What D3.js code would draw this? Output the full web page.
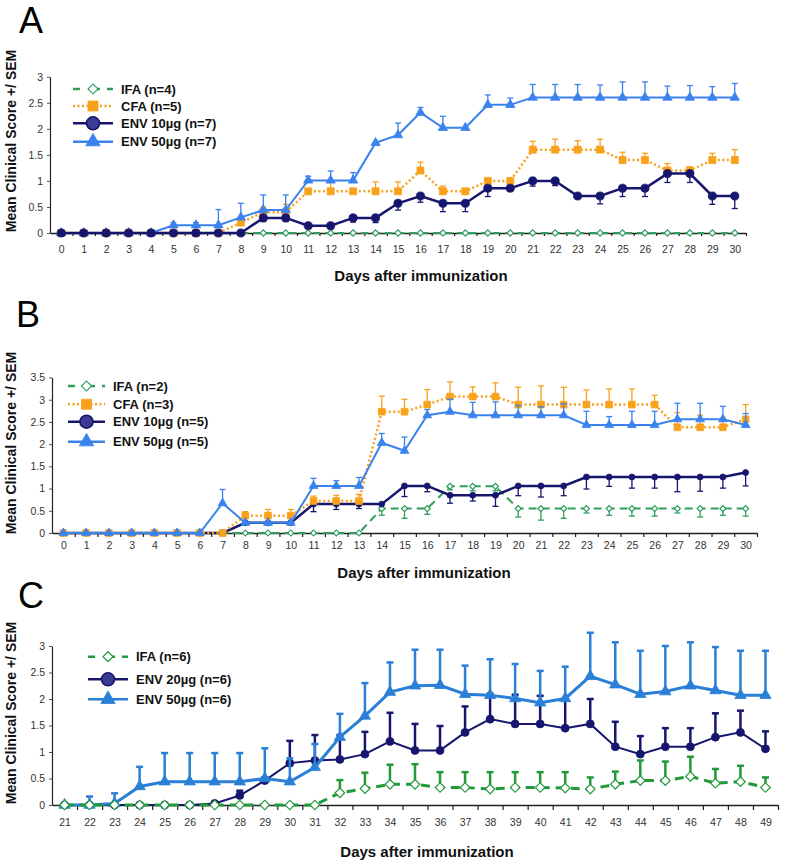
<!DOCTYPE html>
<html>
<head>
<meta charset="utf-8">
<script src="https://cdn.jsdelivr.net/npm/d3@7"></script>
<style>
  body { margin: 0; background: #fff; }
  svg { display: block; }
</style>
</head>
<body>
<svg id="chart" width="785" height="864"></svg>
<script>
const FONT = '"Liberation Sans", Arial, sans-serif';

// ---- categories / ticks ----
const daysAB = [0,1,2,3,4,5,6,7,8,9,10,11,12,13,14,15,16,17,18,19,20,21,22,23,24,25,26,27,28,29,30];
const daysC = [21,22,23,24,25,26,27,28,29,30,31,32,33,34,35,36,37,38,39,40,41,42,43,44,45,46,47,48,49];
const yTicksA = [0, 0.5, 1, 1.5, 2, 2.5, 3];
const yTicksB = [0, 0.5, 1, 1.5, 2, 2.5, 3, 3.5];
const yTicksC = [0, 0.5, 1, 1.5, 2, 2.5, 3];

// ---- panel A ----
const aIFA    = [0,0,0,0,0,0,0,0,0,0,0,0,0,0,0,0,0,0,0,0,0,0,0,0,0,0,0,0,0,0,0];
const aIFAsem = [0,0,0,0,0,0,0,0,0,0,0,0,0,0,0,0,0,0,0,0,0,0,0,0,0,0,0,0,0,0,0];
const aCFA    = [0,0,0,0,0,0,0,0,0.2,0.4,0.4,0.8,0.8,0.8,0.8,0.8,1.2,0.8,0.8,1.0,1.0,1.6,1.6,1.6,1.6,1.4,1.4,1.2,1.2,1.4,1.4];
const aCFAsem = [0,0,0,0,0,0,0,0,0.05,0.1,0.15,0,0.18,0,0.18,0.18,0.16,0.1,0,0,0,0.16,0.2,0.17,0.2,0.15,0.13,0.13,0.07,0.13,0.2];
const aENV10    = [0,0,0,0,0,0,0,0,0,0.29,0.29,0.14,0.14,0.29,0.29,0.57,0.71,0.57,0.57,0.86,0.86,1.0,1.0,0.71,0.71,0.86,0.86,1.14,1.14,0.71,0.71];
const aENV10sem = [0,0,0,0,0,0,0,0,0,0.07,0.07,0.05,0.06,0.08,0.09,0.13,0.12,0.16,0.16,0.16,0.05,0.1,0.09,0.05,0.15,0.16,0.16,0.17,0.17,0.16,0.24];
const aENV50    = [0,0,0,0,0,0.15,0.15,0.15,0.3,0.44,0.44,1.01,1.01,1.01,1.73,1.88,2.31,2.02,2.02,2.46,2.46,2.6,2.6,2.6,2.6,2.6,2.6,2.6,2.6,2.6,2.6];
const aENV50sem = [0,0,0,0,0,0.05,0.05,0.3,0.27,0.29,0.29,0.08,0.18,0.15,0,0.23,0.1,0.22,0,0.19,0.13,0.25,0.25,0.25,0.24,0.3,0.3,0.22,0.23,0.21,0.27];

// ---- panel B ----
const bIFA    = [0,0,0,0,0,0,0,0,0,0,0,0,0,0,0.55,0.55,0.55,1.05,1.05,1.05,0.55,0.55,0.55,0.55,0.55,0.55,0.55,0.55,0.55,0.55,0.55];
const bIFAsem = [0,0,0,0,0,0,0,0,0,0,0,0,0,0,0.15,0.22,0.13,0.08,0.1,0.1,0.19,0.26,0.22,0.1,0.15,0.17,0.17,0.1,0.19,0.15,0.17];
const bCFA    = [0,0,0,0,0,0,0,0,0.39,0.39,0.39,0.72,0.72,0.72,2.73,2.73,2.89,3.07,3.07,3.07,2.89,2.89,2.89,2.89,2.89,2.89,2.89,2.38,2.38,2.38,2.56];
const bCFAsem = [0,0,0,0,0,0,0,0,0.09,0.14,0.14,0.11,0.13,0.15,0.35,0.28,0.34,0.33,0.22,0.31,0.39,0.42,0.39,0.33,0.35,0.35,0.21,0.33,0.27,0.21,0.33];
const bENV10    = [0,0,0,0,0,0,0,0,0.23,0.23,0.23,0.65,0.65,0.65,0.65,1.06,1.06,0.85,0.85,0.85,1.06,1.06,1.06,1.26,1.26,1.26,1.26,1.26,1.26,1.26,1.36];
const bENV10sem = [0,0,0,0,0,0,0,0,0,0,0,0.17,0.12,0.1,0,0.24,0.13,0.18,0.13,0.25,0.22,0.25,0.22,0.27,0.21,0.25,0.25,0.33,0.32,0.25,0.3];
const bENV50    = [0,0,0,0,0,0,0,0.67,0.23,0.23,0.23,1.06,1.06,1.06,2.03,1.85,2.65,2.73,2.65,2.65,2.65,2.65,2.65,2.43,2.43,2.43,2.43,2.56,2.56,2.56,2.43];
const bENV50sem = [0,0,0,0,0,0,0,0.31,0,0,0,0.17,0.12,0.19,0.21,0.31,0.13,0.28,0.29,0.3,0.22,0.19,0.26,0.31,0.19,0.31,0.31,0.36,0.36,0.29,0.26];

// ---- panel C ----
const cIFA    = [0,0,0,0,0,0,0,0,0,0,0,0.23,0.31,0.39,0.39,0.33,0.33,0.30,0.33,0.33,0.32,0.30,0.39,0.46,0.46,0.54,0.41,0.44,0.33];
const cIFAsem = [0,0,0,0,0,0,0,0,0,0,0,0.24,0.3,0.37,0.38,0.29,0.29,0.32,0.29,0.29,0.3,0.22,0.24,0.38,0.36,0.37,0.27,0.3,0.19];
const cENV20    = [0,0,0,0,0,0,0.03,0.18,0.46,0.79,0.84,0.86,0.96,1.2,1.03,1.03,1.37,1.62,1.53,1.53,1.45,1.53,1.10,0.96,1.10,1.10,1.28,1.37,1.06];
const cENV20sem = [0,0,0,0,0,0,0,0.09,0.06,0.42,0.48,0.46,0.42,0.54,0.5,0.46,0.49,0.48,0.55,0.53,0.55,0.47,0.47,0.34,0.35,0.35,0.45,0.41,0.33];
const cENV50    = [0,0,0.03,0.35,0.44,0.44,0.44,0.44,0.5,0.44,0.71,1.28,1.68,2.13,2.25,2.26,2.09,2.07,2.01,1.93,2.01,2.43,2.27,2.09,2.14,2.25,2.16,2.07,2.07];
const cENV50sem = [0,0.16,0.19,0.37,0.54,0.54,0.54,0.54,0.57,0.44,0.44,0.44,0.62,0.56,0.68,0.67,0.54,0.68,0.65,0.6,0.6,0.82,0.8,0.82,0.86,0.82,0.82,0.84,0.84];

// colours
const GREEN = '#2f9e5c', GREEN_C = '#22993a', ORANGE = '#f9a11b', NAVY = '#16166e', BLUE = '#3a82ee', BLUE_C = '#2a7fd6';

const panels = [
  {
    letter: 'A', letterX: 19, letterY: 33,
    days: daysAB, yMax: 3, yTicks: yTicksA,
    left: 50, right: 746, top: 76.7, bottom: 233, xPad: 12.5, xTick: 3,
    yTitleY: 141, xTitleX: 421, xTitleY: 281,
    legend: { rows: [89, 106, 123.3, 141.7], x0: 73, x1: 113, tx: 121 },
    series: [
      { label: 'IFA (n=4)', values: aIFA, sem: aIFAsem, dir: 1, z: 0, color: GREEN, dash: '7,5', width: 2, sym: 'diamond', size: 20, capW: 6, barW: 1.3 },
      { label: 'CFA (n=5)', values: aCFA, sem: aCFAsem, dir: 1, z: 1, color: ORANGE, dash: '2,2.5', width: 2.5, sym: 'square', size: 49, capW: 6, barW: 1.3 },
      { label: 'ENV 10µg (n=7)', values: aENV10, sem: aENV10sem, dir: -1, z: 3, color: NAVY, dash: null, width: 2.5, sym: 'circle', size: 52, capW: 6, barW: 1.3 },
      { label: 'ENV 50µg (n=7)', values: aENV50, sem: aENV50sem, dir: 1, z: 2, color: BLUE, dash: null, width: 2, sym: 'triangle', size: 38, capW: 6, barW: 1.3 }
    ]
  },
  {
    letter: 'B', letterX: 16, letterY: 327,
    days: daysAB, yMax: 3.5, yTicks: yTicksB,
    left: 52, right: 757, top: 377.5, bottom: 533, xPad: 9, xTick: 4,
    yTitleY: 443, xTitleX: 424, xTitleY: 578,
    legend: { rows: [386, 404.3, 421.7, 441.7], x0: 68, x1: 105, tx: 113 },
    series: [
      { label: 'IFA (n=2)', values: bIFA, sem: bIFAsem, dir: -1, z: 0, color: GREEN, dash: '8,5', width: 2, sym: 'diamond', size: 18, capW: 6, barW: 1.3 },
      { label: 'CFA (n=3)', values: bCFA, sem: bCFAsem, dir: 1, z: 2, color: ORANGE, dash: '2,2.5', width: 2.5, sym: 'square', size: 45, capW: 6, barW: 1.3 },
      { label: 'ENV 10µg (n=5)', values: bENV10, sem: bENV10sem, dir: -1, z: 1, color: NAVY, dash: null, width: 2.5, sym: 'circle', size: 28, capW: 6, barW: 1.3 },
      { label: 'ENV 50µg (n=5)', values: bENV50, sem: bENV50sem, dir: 1, z: 3, color: BLUE, dash: null, width: 2, sym: 'triangle', size: 34, capW: 6, barW: 1.3 }
    ]
  },
  {
    letter: 'C', letterX: 18, letterY: 608,
    days: daysC, yMax: 3, yTicks: yTicksC,
    left: 52, right: 778, top: 646, bottom: 805, xPad: 14, xTick: 5,
    yTitleY: 713, xTitleX: 427, xTitleY: 857,
    legend: { rows: [656.7, 679.3, 699.3], x0: 88, x1: 128, tx: 136 },
    series: [
      { label: 'IFA (n=6)', values: cIFA, sem: cIFAsem, dir: 1, z: 2, color: GREEN_C, dash: '9,6', width: 3, sym: 'diamond', size: 45, capW: 7, barW: 2.5 },
      { label: 'ENV 20µg (n=6)', values: cENV20, sem: cENV20sem, dir: 1, z: 0, color: NAVY, dash: null, width: 2, sym: 'circle', size: 50, capW: 7, barW: 2.5 },
      { label: 'ENV 50µg (n=6)', values: cENV50, sem: cENV50sem, dir: 1, z: 1, color: BLUE_C, dash: null, width: 3, sym: 'triangle', size: 55, capW: 7, barW: 2.5 }
    ]
  }
];

const svg = d3.select('#chart');
svg.append('rect').attr('width', 785).attr('height', 864).attr('fill', '#fff');

const symbolTypes = {
  diamond: d3.symbolSquare,
  square: d3.symbolSquare,
  circle: d3.symbolCircle,
  triangle: d3.symbolTriangle
};

function markerStyle(sel, s) {
  if (s.sym === 'diamond') {
    sel.attr('fill', '#fff').attr('stroke', s.color).attr('stroke-width', 1.2);
  } else {
    sel.attr('fill', s.color).attr('stroke', s.color).attr('stroke-width', 0.8);
  }
}

function drawPanel(p) {
  const g = svg.append('g');
  const n = p.days.length;
  const x = d3.scaleLinear().domain([p.days[0] - 0.5, p.days[n - 1] + 0.5]).range([p.left, p.right]);
  const y = d3.scaleLinear().domain([0, p.yMax]).range([p.bottom, p.top]);

  // y axis
  const ya = g.append('g')
    .attr('transform', `translate(${p.left},0)`)
    .call(d3.axisLeft(y).tickValues(p.yTicks).tickSize(3).tickSizeOuter(0).tickPadding(4).tickFormat(d => d));
  ya.attr('font-family', FONT).attr('font-size', 10.5);
  ya.select('.domain').attr('stroke', '#222').attr('stroke-width', 1.2);
  ya.selectAll('.tick line').attr('stroke', '#555');
  ya.selectAll('.tick text').attr('fill', '#333');

  // x axis: labels on days, ticks between days
  const xa = g.append('g')
    .attr('transform', `translate(0,${p.bottom})`)
    .call(d3.axisBottom(x).tickValues(p.days).tickSize(0).tickSizeOuter(0).tickPadding(p.xPad).tickFormat(d => d));
  xa.attr('font-family', FONT).attr('font-size', 10.5);
  xa.select('.domain').attr('stroke', '#222').attr('stroke-width', 1.5);
  xa.selectAll('.tick text').attr('fill', '#333');

  const xt = g.append('g')
    .attr('transform', `translate(0,${p.bottom})`)
    .call(d3.axisBottom(x).tickValues(p.days.map(d => d + 0.5)).tickSize(p.xTick).tickSizeOuter(0).tickFormat(''));
  xt.select('.domain').remove();
  xt.selectAll('.tick line').attr('stroke', '#222').attr('stroke-width', 1.2);

  // titles
  g.append('text')
    .attr('x', p.letterX).attr('y', p.letterY)
    .attr('font-family', FONT).attr('font-size', 36).attr('fill', '#000')
    .text(p.letter);
  g.append('text')
    .attr('transform', `translate(16,${p.yTitleY}) rotate(-90)`)
    .attr('text-anchor', 'middle')
    .attr('font-family', FONT).attr('font-size', 14).attr('font-weight', 'bold').attr('fill', '#111')
    .text('Mean Clinical Score +/ SEM');
  g.append('text')
    .attr('x', p.xTitleX).attr('y', p.xTitleY)
    .attr('text-anchor', 'middle')
    .attr('font-family', FONT).attr('font-size', 15).attr('font-weight', 'bold').attr('fill', '#111')
    .text('Days after immunization');

  // series, drawn back to front
  const ordered = p.series.slice().sort((a, b) => a.z - b.z);
  ordered.forEach(s => {
    const pts = p.days.map((d, i) => ({ d, v: s.values[i], e: s.sem[i] }));
    const sg = g.append('g');

    const bars = sg.selectAll('g.bar')
      .data(pts.filter(q => q.e > 0))
      .join('g').attr('class', 'bar')
      .attr('stroke', s.color).attr('stroke-width', s.barW);
    bars.append('line')
      .attr('x1', q => x(q.d)).attr('x2', q => x(q.d))
      .attr('y1', q => y(q.v)).attr('y2', q => y(q.v + s.dir * q.e));
    bars.append('line')
      .attr('x1', q => x(q.d) - s.capW / 2).attr('x2', q => x(q.d) + s.capW / 2)
      .attr('y1', q => y(q.v + s.dir * q.e)).attr('y2', q => y(q.v + s.dir * q.e));

    sg.append('path')
      .datum(pts)
      .attr('fill', 'none')
      .attr('stroke', s.color)
      .attr('stroke-width', s.width)
      .attr('stroke-dasharray', s.dash)
      .attr('d', d3.line().x(q => x(q.d)).y(q => y(q.v)));

    const sym = d3.symbol(symbolTypes[s.sym], s.size);
    sg.selectAll('path.mark')
      .data(pts)
      .join('path').attr('class', 'mark')
      .attr('transform', q => `translate(${x(q.d)},${y(q.v)})${s.sym === 'diamond' ? ' rotate(45)' : ''}`)
      .attr('d', sym)
      .call(markerStyle, s);
  });

  // legend
  const L = p.legend;
  p.series.forEach((s, i) => {
    const ly = L.rows[i];
    const lg = g.append('g');
    lg.append('line')
      .attr('x1', L.x0).attr('x2', L.x1).attr('y1', ly).attr('y2', ly)
      .attr('stroke', s.color).attr('stroke-width', s.sym === 'square' ? 2.5 : 2.5)
      .attr('stroke-dasharray', s.sym === 'diamond' ? '7,13,7' : s.dash);
    const cx = (L.x0 + L.x1) / 2;
    const big = { diamond: 50, square: 100, circle: 133, triangle: 90 }[s.sym];
    const m = lg.append('path')
      .attr('transform', `translate(${cx},${ly})${s.sym === 'diamond' ? ' rotate(45)' : ''}`)
      .attr('d', d3.symbol(symbolTypes[s.sym], big));
    if (s.sym === 'circle') {
      m.attr('fill', '#3b3b95').attr('stroke', s.color).attr('stroke-width', 1.6);
    } else {
      markerStyle(m, s);
    }
    lg.append('text')
      .attr('x', L.tx).attr('y', ly)
      .attr('dy', '0.36em')
      .attr('font-family', FONT).attr('font-size', 13).attr('font-weight', 'bold').attr('fill', '#111')
      .text(s.label);
  });
}

panels.forEach(drawPanel);
</script>
</body>
</html>
